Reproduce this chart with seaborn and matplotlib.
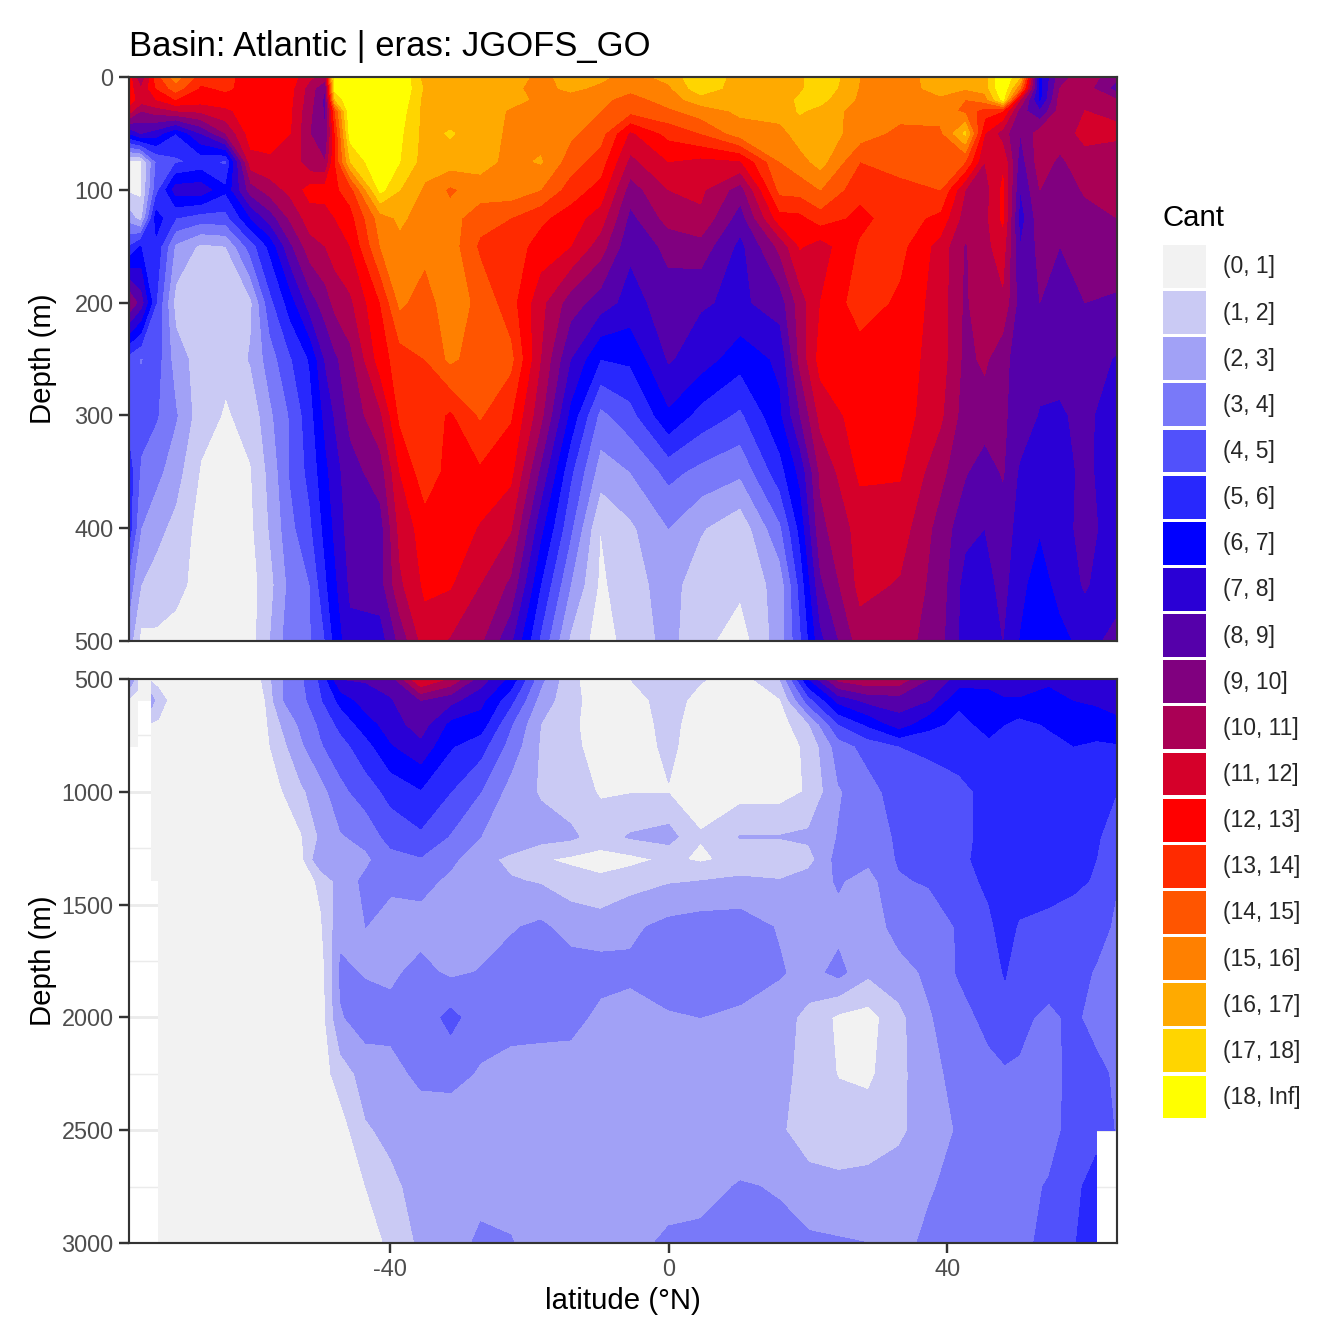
import numpy as np
import matplotlib
matplotlib.use('Agg')
import matplotlib.pyplot as plt
from matplotlib.patches import Patch
from matplotlib.ticker import MultipleLocator
import seaborn as sns

nan = np.nan

# Cant classes
class_labels = ['(0, 1]', '(1, 2]', '(2, 3]', '(3, 4]', '(4, 5]', '(5, 6]', '(6, 7]',
                '(7, 8]', '(8, 9]', '(9, 10]', '(10, 11]', '(11, 12]', '(12, 13]',
                '(13, 14]', '(14, 15]', '(15, 16]', '(16, 17]', '(17, 18]', '(18, Inf]']
class_breaks = [0, 1, 2, 3, 4, 5, 6, 7, 8, 9, 10, 11, 12, 13, 14, 15, 16, 17, 18, 100]

# upper panel, one list per latitude, values going down the depth axis
depth_top = [0, 10, 20, 30, 50, 75, 100, 125, 150, 200, 250, 300, 350, 400, 450, 500]
lat_top = [-77.5, -75.8, -73.6, -70.8, -67.2, -63.6, -60, -57.2, -54.3, -51.5, -49.3, -47.9, -45.7,
           -41.4, -38.6, -35, -31.4, -27.1, -22.7, -18.4, -14.1, -9.8, -5.5, 0, 4.6, 10.3, 16, 18.9,
           21.8, 27.5, 33.2, 39, 42.6, 45.4, 48, 50.5, 53.3, 56.2, 59.8, 64.4]
cant_top = [
    [12.5, 12.5, 12.5, 11.5, 7, 0.8, 0.8, 2.5, 5, 10, 4.5, 4.5, 5.5, 5.5, 3.5, 2.5],
    [10, 11, 11.5, 10, 8, 0.8, 0.8, 1.5, 6, 8.5, 3.9, 4.5, 3.8, 3, 2, 0.7],
    [13.5, 13, 12, 10.5, 7.5, 4, 4.5, 6.5, 5.7, 5, 4.5, 4.1, 3.3, 2.3, 1.6, 0.8],
    [15.5, 14.5, 13, 11, 6, 4.8, 7.5, 5, 2.8, 1.6, 2.5, 3.1, 2.4, 1.7, 1.4, 0.5],
    [13.5, 12.8, 12.5, 11.2, 8, 5.3, 7.6, 4.5, 1.8, 1.3, 1.5, 1.4, 0.9, 0.6, 0.5, 0.5],
    [13.3, 13.2, 12.5, 11.8, 10, 4.8, 6.2, 4.6, 2, 1.5, 1.2, 0.9, 0.5, 0.5, 0.5, 0.5],
    [12.5, 12.5, 12.5, 12.5, 12.5, 11.6, 9.5, 7, 4.5, 1.8, 2.1, 1.3, 0.95, 0.8, 0.6, 0.6],
    [12.5, 12.5, 12.5, 12.5, 12.5, 11.8, 10.5, 8.5, 6.3, 4.7, 3.5, 2.8, 2.3, 2.1, 1.7, 2],
    [12.5, 12.3, 12.2, 12.1, 12, 11.8, 11.3, 10.2, 8.8, 6.5, 4.9, 4.1, 4.1, 3.7, 3.3, 3.6],
    [11.2, 10.5, 10.4, 10.2, 10, 10.2, 12.4, 11.5, 10.6, 8.5, 6.1, 5.6, 5.3, 4.8, 4, 3.9],
    [10.5, 9, 8.7, 8.8, 9, 10, 12.5, 11.5, 11, 9.5, 8.1, 7.3, 6.7, 6.3, 5.8, 5],
    [19, 18.5, 17, 14, 13, 13, 12.8, 12, 11.5, 10.3, 8.8, 8.1, 7.6, 7.2, 6.8, 6.3],
    [19, 19, 19, 19, 18.5, 17, 13.5, 12.6, 12, 10.8, 9.7, 9.3, 8.6, 8.5, 8.2, 7.7],
    [19, 19, 19, 19, 19, 19, 18.3, 15.5, 15, 13, 12.5, 10.8, 9.5, 8.6, 8.6, 7.5],
    [19, 19, 18.8, 18.5, 18.2, 18, 17, 16.2, 15.7, 15.2, 13.5, 13.2, 12, 11.3, 10.8, 9.3],
    [16.5, 16.8, 16.6, 16.6, 16.6, 16.5, 15.8, 15.5, 15.3, 14.5, 14, 13.7, 13.6, 12.5, 12.2, 11.5],
    [16.3, 16.5, 16.4, 16.4, 17.1, 16.5, 14.8, 15.4, 15.5, 15.6, 15.2, 12.8, 12.6, 12.7, 12.1, 10.9],
    [16.5, 16.5, 16.5, 16.5, 16.5, 16.4, 15.5, 14.4, 13.8, 14.7, 14.5, 14.1, 12.8, 11.9, 11, 10.2],
    [16.5, 16.2, 16.3, 15.9, 15.8, 15.7, 15.6, 14, 13.5, 13.4, 14.3, 13.1, 12.3, 11.1, 9.8, 8.2],
    [15.7, 15.7, 15.8, 15.7, 15.6, 16.1, 15, 13.2, 12.6, 11.3, 11, 10.3, 8.8, 7.3, 6, 4.8],
    [16.4, 16.2, 15.6, 15.5, 15.2, 14.5, 13.5, 12.5, 12, 9.5, 8, 6.7, 5.2, 4.2, 3, 1.8],
    [16.2, 15.8, 15.3, 15, 14.4, 13.5, 12.6, 11.5, 10.5, 8.5, 6, 3.7, 2.5, 1, 0.8, 0.5],
    [15.6, 15.3, 14.5, 14.3, 11.8, 10.7, 9.5, 8.7, 8.2, 7.6, 6.2, 4.6, 3, 1.8, 1.6, 1.4],
    [16.3, 15.8, 15.5, 14.8, 13.3, 12, 11, 10.4, 9.3, 8.5, 8.1, 6.8, 4.3, 3, 2.4, 2.3],
    [17.9, 17.7, 16.5, 15.5, 14, 11.7, 11.2, 10.8, 9.6, 8.1, 7.5, 5.6, 3.7, 2.1, 1.4, 1.3],
    [16.5, 16.4, 16.3, 16.2, 15.5, 11.9, 9.5, 8.5, 7.7, 7.8, 6.4, 4.8, 3.2, 1.3, 1.2, 0.5],
    [16.5, 16.5, 16.5, 16.5, 15.6, 15, 14.3, 12.6, 10.3, 8.5, 7.2, 6.8, 5.6, 3.8, 2.4, 2.5],
    [16.7, 16.8, 17.2, 17.1, 16.5, 15.6, 14.4, 12.7, 12.1, 10.5, 10.3, 9, 7.3, 6.3, 5.3, 4.8],
    [18, 17.8, 17.3, 16.7, 16.6, 16.4, 15, 13.5, 11.5, 12, 12.4, 11.3, 10.2, 9.7, 8.8, 7.7],
    [16, 15.9, 15.8, 15.5, 15.5, 14, 13.3, 12.7, 13.1, 13.5, 12.5, 12.5, 12.2, 11.4, 11.3, 10.5],
    [15.5, 15.5, 15.6, 15.4, 14.7, 14.6, 13.5, 13.5, 13.3, 12.8, 12.5, 12.5, 12.1, 11.5, 10.9, 10.5],
    [16.5, 16.4, 15.8, 15.6, 14.7, 14.4, 14, 12.7, 11.6, 11.5, 11.5, 11.2, 10.3, 9.6, 9.5, 9.3],
    [16.2, 16.1, 15, 14.7, 17.2, 14, 11, 10.5, 9.9, 9.8, 9.7, 9.5, 9.1, 8.3, 7.6, 7.5],
    [16.5, 16.4, 15.5, 13.5, 12, 11, 10.5, 10.7, 10.7, 10.8, 10.2, 9.5, 8.5, 8, 7.6, 7.5],
    [19, 19, 18.3, 13, 10.5, 11.8, 12.2, 12.2, 11.5, 10.8, 9.3, 9.1, 9.1, 8.5, 8.3, 8],
    [17, 15, 11, 9.5, 9, 8.5, 8, 7.5, 8, 8.5, 8.5, 8.7, 7.8, 7.6, 7.3, 6.9],
    [6.5, 6.5, 6.6, 8, 10.5, 10.5, 10, 9.6, 9.3, 9, 8.5, 7.9, 7.6, 7.1, 6.4, 6.5],
    [9.6, 10, 10.4, 10.4, 10.5, 9.8, 9.5, 9.4, 9, 8.7, 8.5, 7.8, 7.5, 7.5, 7.4, 6.6],
    [10.6, 10.5, 10.5, 11, 11.3, 10.6, 10.1, 9.7, 9.4, 9, 8.5, 8.4, 8.3, 8.4, 8.1, 7.4],
    [9.3, 8.5, 10, 10.8, 11.2, 10.4, 10.2, 10, 9.8, 8.8, 7.9, 7, 7.2, 7.4, 7.3, 8.5],
]

# lower panel, nan where there are no samples
depth_bottom = [500, 595, 700, 797, 1000, 1200, 1300, 1395, 1600, 1800, 2000, 2250, 2500, 2750, 3000]
lat_bottom = [-77.5, -76.3, -76.29, -74.31, -74.3, -73.3, -70.7, -67.1, -62.8, -58.5, -55.7, -52.8,
              -49.9, -47.1, -43.5, -39.9, -35.6, -31.3, -27, -22.7, -18.4, -14.1, -9.8, -5.5, 0,
              4.6, 10.3, 16, 20.1, 24.4, 28.7, 33.1, 37.4, 41.7, 46, 48.3, 50.3, 54.6, 58.2, 61.4, 61.41, 64.4]
cant_bottom = [
    [3, 0.8, 0.5, 0.5, nan, nan, nan, nan, nan, nan, nan, nan, nan, nan, nan],
    [1.5, 0.5, 0.5, 0.5, nan, nan, nan, nan, nan, nan, nan, nan, nan, nan, nan],
    [0.7, 0.5, nan, nan, nan, nan, nan, nan, nan, nan, nan, nan, nan, nan, nan],
    [0.7, 0.6, nan, nan, nan, nan, nan, nan, nan, nan, nan, nan, nan, nan, nan],
    [0.8, 2.5, 0.9, 0.5, 0.5, 0.5, 0.5, 0.5, nan, nan, nan, nan, nan, nan, nan],
    [0.7, 1.4, 0.9, 0.5, 0.5, 0.5, 0.5, 0.5, 0.5, 0.5, 0.5, 0.5, 0.5, 0.5, 0.5],
    [0.5, 0.5, 0.5, 0.5, 0.5, 0.5, 0.5, 0.5, 0.5, 0.5, 0.5, 0.5, 0.5, 0.5, 0.5],
    [0.5, 0.5, 0.5, 0.5, 0.5, 0.5, 0.5, 0.5, 0.5, 0.5, 0.5, 0.5, 0.5, 0.5, 0.5],
    [0.5, 0.5, 0.5, 0.5, 0.5, 0.5, 0.5, 0.5, 0.5, 0.5, 0.5, 0.5, 0.5, 0.5, 0.5],
    [1, 0.5, 0.5, 0.5, 0.5, 0.5, 0.5, 0.5, 0.5, 0.5, 0.5, 0.5, 0.5, 0.5, 0.5],
    [2.9, 2.9, 2, 1.6, 0.9, 0.5, 0.5, 0.5, 0.5, 0.5, 0.5, 0.5, 0.5, 0.5, 0.5],
    [3.8, 3.6, 3.2, 2.8, 1.8, 0.9, 0.7, 0.5, 0.5, 0.5, 0.5, 0.5, 0.5, 0.5, 0.5],
    [5.2, 4.9, 4.2, 3.9, 2.6, 2.2, 2.9, 1.2, 0.9, 0.5, 0.5, 0.5, 0.5, 0.5, 0.5],
    [8, 6.3, 5.3, 4.6, 3.7, 2.9, 2.6, 2.5, 2.7, 3.2, 2.9, 1.5, 0.5, 0.5, 0.5],
    [8.1, 7.5, 6.5, 5.6, 4.5, 3.3, 2.8, 3.2, 3, 2.9, 3.5, 2.4, 1.9, 1, 0.5],
    [8.5, 7.9, 7.5, 6.9, 5.3, 4.4, 3.6, 3.1, 2.8, 2.8, 3.3, 2.7, 2.2, 1.8, 1.2],
    [12.1, 9, 8.5, 7.7, 5.9, 4.8, 3.9, 3.3, 2.6, 3.3, 3.4, 3.2, 2.5, 2.3, 2.2],
    [10.8, 8.3, 6.7, 6.1, 5, 3.9, 3.2, 2.8, 2.7, 2.8, 4.3, 3.3, 2.4, 2.3, 2.3],
    [8.5, 7.3, 6.5, 5.4, 4, 3, 2.4, 2.6, 2.6, 3.05, 3.4, 2.9, 2.4, 2.5, 3.3],
    [6.7, 5.3, 4.1, 3.6, 2.6, 2.9, 1.7, 2.1, 2.9, 3.4, 3.5, 2.5, 2.3, 2.4, 3.1],
    [3.3, 2.6, 2, 1.9, 1.9, 2.4, 1.1, 1.9, 3.2, 3.5, 3.4, 2.5, 2.2, 2.2, 2.3],
    [1.2, 1.3, 1.2, 1.3, 1.5, 2.2, 0.8, 1.5, 2.6, 3.5, 3.4, 2.4, 2.1, 2.1, 2.2],
    [0.5, 0.5, 0.5, 0.5, 0.9, 1.5, 0.6, 1.2, 2.5, 3.4, 2.7, 2.3, 2.1, 2, 2.3],
    [1, 0.5, 0.5, 0.5, 0.95, 2.1, 0.7, 1.6, 2.8, 3.2, 2.6, 2.3, 2.1, 2.2, 2.5],
    [1.3, 1.5, 1.3, 1.2, 0.95, 2.4, 1.2, 1.9, 3.3, 3.5, 2.9, 2.3, 2.1, 2.3, 3.3],
    [1.1, 0.6, 0.5, 0.5, 0.7, 1.05, 0.85, 2, 3.5, 3.5, 3, 2.3, 2.1, 2.6, 3.3],
    [0.5, 0.5, 0.5, 0.5, 0.6, 2.05, 1.3, 2.2, 3.5, 3.5, 2.8, 2.3, 2.1, 3.1, 3.2],
    [2, 0.9, 0.5, 0.5, 0.6, 2.05, 1.3, 2.05, 2.9, 3.1, 2.4, 2.3, 2.1, 2.9, 3.3],
    [7, 4.5, 1.9, 1.2, 1.1, 2.2, 1.6, 2.5, 2.7, 2.6, 1.7, 1.6, 1.6, 2.3, 3.2],
    [10.3, 7.3, 5, 3.5, 2.9, 3.05, 3.4, 3.1, 2.7, 3.3, 0.8, 0.95, 1.5, 2.2, 3.1],
    [10.8, 8.3, 6.2, 4.4, 3.6, 3.3, 3.2, 2.6, 2.4, 2.2, 0.6, 0.8, 1.5, 2.3, 3],
    [10.6, 8.5, 7.5, 5, 4.5, 4.2, 4.1, 3.9, 3.4, 2.6, 1.7, 1.7, 1.8, 2.5, 2.7],
    [9, 8, 6.3, 5.2, 4.5, 4.4, 4.3, 4.1, 3.4, 3.2, 2.9, 2.7, 2.5, 2.9, 3.2],
    [7.5, 6.2, 5.7, 5.5, 4.7, 4.7, 4.8, 4.6, 4.1, 4.1, 3.6, 3.3, 3.1, 3.3, 3.4],
    [7.5, 6.4, 6.3, 5.8, 5.3, 5.3, 5.3, 5.2, 4.8, 4.4, 4.3, 3.7, 3.3, 3.4, 3.5],
    [8, 6.8, 6, 5.6, 5.5, 5.5, 5.5, 5.5, 5.4, 5.1, 4.5, 3.9, 3.4, 3.5, 3.6],
    [8, 6.8, 5.7, 5.5, 5.5, 5.5, 5.5, 5.5, 4.9, 4.3, 4.2, 3.9, 3.5, 3.6, 3.7],
    [7.2, 6.6, 6.1, 5.7, 5.5, 5.5, 5.5, 5.4, 4.7, 4.4, 3.8, 3.5, 3.5, 4.1, 4.3],
    [7.4, 7, 6.4, 6, 5.6, 5.6, 5.5, 5.2, 4.5, 4.4, 4.2, 4.4, 4.5, 4.7, 4.9],
    [8, 7.2, 6.3, 5.9, 5.7, 5.1, 5, 4.9, 4.4, 3.9, 3.6, 4.3, 4.6, 5.5, 5.8],
    [8, 7.2, 6.3, 5.9, 5.7, 5.1, 5, 4.9, 4.4, 3.9, 3.6, 4.3, 4.6, nan, nan],
    [7.8, 7.3, 6.8, 5.9, 5, 4.6, 4.5, 4.05, 3.8, 3.8, 3.7, 3.8, 3.9, nan, nan],
]

sns.set_theme(style='white', rc={'axes.edgecolor': '#333333', 'axes.linewidth': 0.8})
plt.rcParams['font.family'] = ['Liberation Sans', 'DejaVu Sans']
plt.rcParams['axes.unicode_minus'] = False

# gray to blue to red to yellow, 19 steps
pal = (sns.blend_palette(['#F2F2F2', '#0000FF'], 7)[:-1]
       + sns.blend_palette(['#0000FF', '#FF0000'], 7)[:-1]
       + sns.blend_palette(['#FF0000', '#FFFF00'], 7))

W = 1344.0
fig = plt.figure(figsize=(7, 7), dpi=192, facecolor='white')
ax_top = fig.add_axes([129 / W, 1 - 641 / W, 988 / W, 564 / W])
ax_bot = fig.add_axes([129 / W, 1 - 1243 / W, 988 / W, 564 / W])

panels = [(ax_top, lat_top, depth_top, cant_top, (500, 0), 100),
          (ax_bot, lat_bottom, depth_bottom, cant_bottom, (3000, 500), 500)]
for ax, lats, depths, values, ylim, ystep in panels:
    grid = np.ma.masked_invalid(np.array(values, dtype=float).T)
    ax.contourf(lats, depths, grid, levels=class_breaks, colors=pal, corner_mask=False, zorder=2)
    ax.set_xlim(-77.5, 64.4)
    ax.set_ylim(*ylim)
    ax.yaxis.set_major_locator(MultipleLocator(ystep))
    ax.yaxis.set_minor_locator(MultipleLocator(ystep / 2))
    ax.set_xticks([-40, 0, 40])
    ax.set_axisbelow(True)
    ax.grid(which='major', color='#EBEBEB', lw=1.07, zorder=0)
    ax.grid(which='minor', axis='y', color='#EBEBEB', lw=0.53, zorder=0)
    ax.tick_params(axis='y', which='major', length=3.6, width=0.9, color='#333333',
                   labelcolor='#4D4D4D', labelsize=8.8, left=True, pad=2.2)
    ax.tick_params(which='minor', length=0)
    ax.set_ylabel('Depth (m)', fontsize=11, color='black')
    ax.yaxis.set_label_coords(-72 / 988, 0.5)
    for s in ax.spines.values():
        s.set_zorder(5)

ax_top.tick_params(axis='x', bottom=False, labelbottom=False)
ax_bot.tick_params(axis='x', which='major', length=3.6, width=0.9, color='#333333',
                   labelcolor='#4D4D4D', labelsize=8.8, bottom=True, pad=2.2)
ax_bot.set_xlabel('latitude (°N)', fontsize=11, color='black', labelpad=2)
ax_top.set_title('Basin: Atlantic | eras: JGOFS_GO', loc='left', fontsize=13, color='black', pad=8)

handles = [Patch(facecolor=c, edgecolor='none') for c in pal]
fig.legend(handles=handles, labels=class_labels, loc='upper left',
           bbox_to_anchor=(1163 / W, 1 - 245 / W), frameon=False, borderpad=0, borderaxespad=0,
           fontsize=8.6, handlelength=1.87, handleheight=2.5, handletextpad=0.74, labelspacing=0.142)
fig.text(1162 / W, 1 - 218 / W, 'Cant', fontsize=11, color='black', va='center', ha='left')

fig.savefig('out.png', dpi=192, facecolor='white')
